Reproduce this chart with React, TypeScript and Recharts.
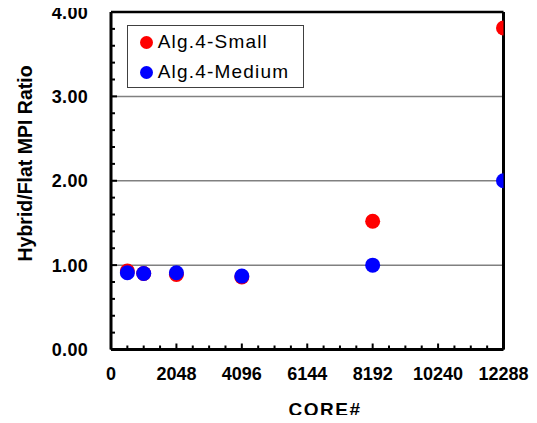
import React from 'react';
import { ScatterChart, Scatter, XAxis, YAxis, ReferenceLine, Legend } from 'recharts';

const CORES = [512, 1024, 2048, 4096, 8192, 12288];
const SMALL = [0.93, 0.9, 0.89, 0.86, 1.52, 3.81];
const MEDIUM = [0.91, 0.9, 0.91, 0.87, 1.0, 2.0];
const SERIES_NAMES = ['Alg.4-Small', 'Alg.4-Medium'];
const SERIES_COLORS = ['#ff0000', '#0000ff'];
const X_MAJOR = [0, 2048, 4096, 6144, 8192, 10240, 12288];
const X_MINOR_STEP = 512;
const Y_MAJOR = [0, 1, 2, 3, 4];
const Y_MINOR_STEP = 0.2;
const GRID_VALUES = [1, 2, 3];

const FONT = "'Liberation Sans', Arial, Helvetica, sans-serif";
const W = 537;
const H = 423;

const xTicks: number[] = [];
for (let v = 0; v <= 12288; v += X_MINOR_STEP) xTicks.push(v);
const yTicks: number[] = [];
for (let i = 0; i <= 20; i++) yTicks.push(Math.round(i * Y_MINOR_STEP * 10) / 10);

const smallData = CORES.map((c, i) => ({ x: c, y: SMALL[i] }));
const mediumData = CORES.map((c, i) => ({ x: c, y: MEDIUM[i] }));

const isMajorX = (v: number) => X_MAJOR.includes(v);
const isMajorY = (v: number) => Y_MAJOR.some((m) => Math.abs(m - v) < 1e-6);

const XTick = (props: any) => {
  const { x, y, payload } = props;
  const v = payload.value;
  const major = isMajorX(v);
  return (
    <g>
      <line x1={x} x2={x} y1={y} y2={y - (major ? 6 : 4)} stroke="#000" strokeWidth={2} />
      {major && (
        <text
          x={x}
          y={y + 30}
          textAnchor="middle"
          fontFamily={FONT}
          fontWeight="bold"
          fontSize={18}
          fill="#000"
        >
          {v}
        </text>
      )}
    </g>
  );
};

const YTick = (props: any) => {
  const { x, y, payload } = props;
  const v = payload.value;
  const major = isMajorY(v);
  return (
    <g>
      <line x1={x} x2={x + (major ? 6 : 4)} y1={y} y2={y} stroke="#000" strokeWidth={2} />
      {major && (
        <text
          x={x - 23}
          y={y + 6.5}
          textAnchor="end"
          fontFamily={FONT}
          fontWeight="bold"
          fontSize={18}
          letterSpacing={0.3}
          fill="#000"
        >
          {Number(v).toFixed(2)}
        </text>
      )}
    </g>
  );
};

const dot = (color: string) => (props: any) => (
  <circle cx={props.cx} cy={props.cy} r={7.5} fill={color} />
);

const LegendBox = () => (
  <div
    style={{
      position: 'relative',
      width: 177,
      height: 63,
      border: '1px solid #404040',
      boxSizing: 'border-box',
      background: '#fff',
      fontFamily: FONT,
    }}
  >
    {SERIES_NAMES.map((name, i) => (
      <div key={name}>
        <div
          style={{
            position: 'absolute',
            left: 12,
            top: 10 + i * 30,
            width: 13,
            height: 13,
            borderRadius: '50%',
            background: SERIES_COLORS[i],
          }}
        />
        <div
          style={{
            position: 'absolute',
            left: 30,
            top: 4 + i * 30,
            fontSize: 19,
            lineHeight: '24px',
            letterSpacing: 1.2,
            color: '#000',
            whiteSpace: 'nowrap',
          }}
        >
          {name}
        </div>
      </div>
    ))}
  </div>
);

export default function App() {
  return (
    <div style={{ margin: -8, width: W, height: H }}>
      <ScatterChart width={W} height={H} margin={{ top: 12, right: 33.5, bottom: 0, left: 0 }}>
        <XAxis
          type="number"
          dataKey="x"
          domain={[0, 12288]}
          ticks={xTicks}
          interval={0}
          height={73.5}
          tickSize={0}
          tickMargin={0}
          tickLine={false}
          axisLine={{ stroke: '#000', strokeWidth: 3 }}
          tick={<XTick />}
          allowDataOverflow
          label={() => (
            <text
              x={325}
              y={416}
              textAnchor="middle"
              fontFamily={FONT}
              fontWeight="bold"
              fontSize={19}
              letterSpacing={1.5}
              fill="#000"
            >
              CORE#
            </text>
          )}
        />
        <YAxis
          type="number"
          dataKey="y"
          domain={[0, 4]}
          ticks={yTicks}
          interval={0}
          width={111}
          tickSize={0}
          tickMargin={0}
          tickLine={false}
          axisLine={{ stroke: '#000', strokeWidth: 3 }}
          tick={<YTick />}
          allowDataOverflow
          label={() => (
            <text
              x={0}
              y={0}
              transform="translate(25, 163.5) rotate(-90) translate(0, 7)"
              textAnchor="middle"
              fontFamily={FONT}
              fontWeight="bold"
              fontSize={19.5}
              fill="#000"
            >
              Hybrid/Flat MPI Ratio
            </text>
          )}
        />
        {GRID_VALUES.map((g) => (
          <ReferenceLine key={g} y={g} stroke="#808080" strokeWidth={1.5} />
        ))}
        <ReferenceLine y={4} stroke="#000" strokeWidth={2.5} />
        <ReferenceLine x={12288} stroke="#000" strokeWidth={3} />
        <Legend
          layout="vertical"
          align="center"
          verticalAlign="middle"
          content={() => <LegendBox />}
          wrapperStyle={{ position: 'absolute', left: 126.7, top: 25, width: 177, height: 63 }}
        />
        <Scatter
          name={SERIES_NAMES[0]}
          data={smallData}
          fill={SERIES_COLORS[0]}
          shape={dot(SERIES_COLORS[0])}
          isAnimationActive={false}
        />
        <Scatter
          name={SERIES_NAMES[1]}
          data={mediumData}
          fill={SERIES_COLORS[1]}
          shape={dot(SERIES_COLORS[1])}
          isAnimationActive={false}
        />
      </ScatterChart>
    </div>
  );
}
